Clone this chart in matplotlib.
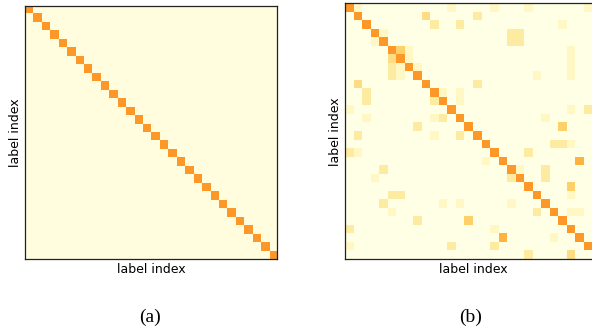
import numpy as np
import matplotlib
matplotlib.use("Agg")
import matplotlib.pyplot as plt

n_labels = 30
axis_label = "label index"
captions = ["(a)", "(b)"]

# (a): one-hot targets
diag_a = [1.0] * n_labels
offdiag_a = 0.04

# (b): learned label distribution (diagonal + off-diagonal entries)
diag_b = [1.0] * n_labels
VL, L, ML, M, MD = 0.2, 0.4, 0.55, 0.65, 0.85
off_rows = [0, 0, 0, 0, 0, 1, 1, 2, 2, 2, 3, 3, 3, 4, 4, 4, 5, 5, 5, 6, 6, 6,
            7, 7, 7, 7, 8, 8, 8, 8, 9, 9, 10, 10, 10, 11, 11, 11, 12, 12, 12,
            13, 13, 13, 13, 14, 14, 15, 15, 15, 16, 16, 16, 17, 17, 17, 18, 18,
            19, 19, 19, 20, 20, 20, 21, 22, 22, 22, 23, 23, 23, 23, 24, 24, 24, 24,
            25, 25, 26, 26, 27, 27, 28, 28, 28, 29, 29]
off_cols = [1, 12, 17, 21, 28, 9, 15, 10, 13, 25, 4, 19, 20, 3, 19, 20, 6, 7, 26, 5, 7, 26,
            5, 6, 8, 26, 5, 6, 22, 26, 1, 15, 2, 11, 13, 2, 10, 13, 0, 26, 28,
            2, 10, 11, 23, 8, 25, 1, 10, 13, 24, 25, 26, 0, 1, 21, 16, 27,
            4, 20, 23, 3, 19, 23, 26, 5, 6, 26, 4, 11, 13, 19, 5, 22, 26, 27,
            8, 14, 0, 17, 18, 24, 0, 12, 17, 21, 26]
off_vals = [VL, VL, VL, VL, VL, ML, L, L, L, VL, VL, L, L, VL, L, L, M, VL, VL, ML, VL, VL,
            L, VL, VL, VL, L, VL, VL, VL, ML, L, L, VL, VL, L, L, VL, VL, VL, L,
            VL, VL, L, VL, L, M, L, VL, L, L, L, VL, L, VL, L, VL, MD,
            L, VL, L, VL, L, L, M, L, L, VL, L, VL, VL, VL, VL, L, VL, VL,
            L, M, L, VL, MD, VL, VL, L, L, L, ML]

mat_a = np.full((n_labels, n_labels), offdiag_a)
mat_a[np.arange(n_labels), np.arange(n_labels)] = diag_a

mat_b = np.zeros((n_labels, n_labels))
mat_b[np.arange(n_labels), np.arange(n_labels)] = diag_b
mat_b[off_rows, off_cols] = off_vals

fig = plt.figure(figsize=(5.92, 3.31), dpi=100)
W, H = 592, 331

def px_axes(x0, y0, x1, y1):
    return fig.add_axes([x0 / W, 1 - y1 / H, (x1 - x0) / W, (y1 - y0) / H])

ax_a = px_axes(24.5, 6, 277.3, 259.3)
ax_b = px_axes(345, 3.3, 601, 259.3)

for ax, mat, cap in [(ax_a, mat_a, captions[0]), (ax_b, mat_b, captions[1])]:
    ax.imshow(mat, cmap="YlOrBr", vmin=0, vmax=2, aspect="auto",
              interpolation="nearest")
    ax.set_xticks([])
    ax.set_yticks([])
    ax.set_xlabel(axis_label, fontsize=9, labelpad=3)
    ax.set_ylabel(axis_label, fontsize=9, labelpad=2)
    for s in ax.spines.values():
        s.set_linewidth(0.9)
        s.set_color("#222222")

fig.text(150 / W, 1 - 317 / H, captions[0], ha="center", va="center",
         family="Liberation Serif", fontsize=14)
fig.text(471 / W, 1 - 317 / H, captions[1], ha="center", va="center",
         family="Liberation Serif", fontsize=14)

fig.savefig("out.png", dpi=100)
